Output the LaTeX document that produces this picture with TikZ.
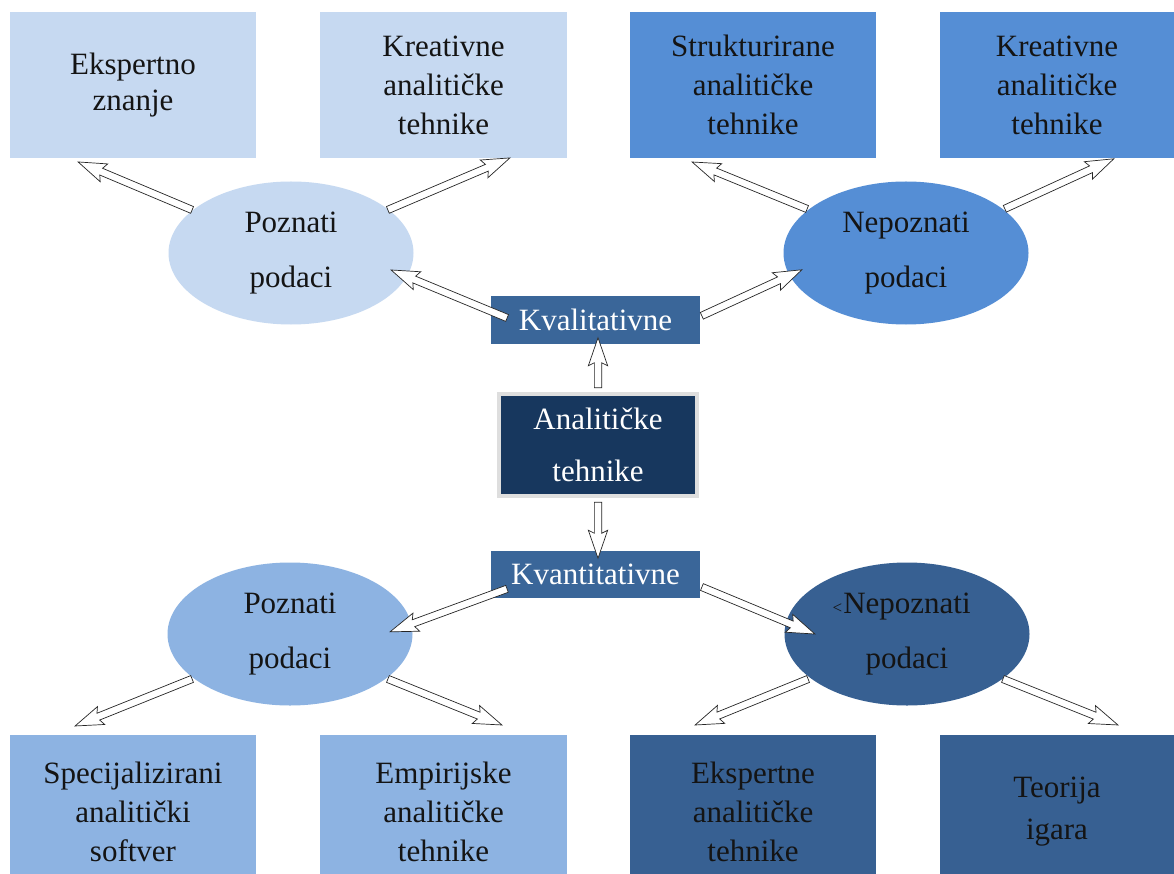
\documentclass[tikz,border=0pt]{standalone}
\usepackage{fontspec}
\setmainfont{Liberation Serif}
\usetikzlibrary{shapes.geometric,shapes.arrows,calc}

\definecolor{paleblue}{HTML}{C6D9F1}
\definecolor{midblue}{HTML}{558ED5}
\definecolor{softblue}{HTML}{8DB3E2}
\definecolor{deepblue}{HTML}{376092}
\definecolor{tagblue}{HTML}{3A6699}
\definecolor{navy}{HTML}{17375E}
\definecolor{ink}{HTML}{141414}

\tikzset{
  box/.style={rectangle, inner sep=0pt, outer sep=0pt, align=center, text=ink,
    font=\fontsize{31}{39}\selectfont},
  oval/.style={ellipse, inner sep=0pt, outer sep=0pt, align=center, text=ink,
    font=\fontsize{31}{55}\selectfont, minimum width=245pt, minimum height=143pt},
  tag/.style={rectangle, fill=tagblue, text=white, inner sep=0pt, outer sep=0pt,
    font=\fontsize{31}{39}\selectfont, minimum width=209pt, minimum height=47pt},
  hollow/.style={single arrow, draw=black!85, fill=white, line width=0.7pt,
    inner sep=3.3pt, outer sep=0pt, single arrow head extend=6pt,
    single arrow tip angle=38, single arrow head indent=3pt},
}

% hollow block arrow from coordinate #1 to coordinate #2
\newcommand\blockarrow[2]{%
  \path let \p1=($(#2)-(#1)$), \n1={atan2(\y1,\x1)}, \n2={veclen(\x1,\y1)} in
    node[hollow, minimum height=\n2, rotate=\n1] at ($(#1)!0.5!(#2)$) {};}

\begin{document}
\begin{tikzpicture}[x=1pt, y=-1pt]
\useasboundingbox[fill=white] (0,0) rectangle (1174,874);

% outer boxes, top row
\node[box, fill=paleblue, minimum width=246pt, minimum height=146pt,
  font=\fontsize{31}{36}\selectfont] (ekz) at (133,85) {Ekspertno\\znanje};
\node[box, fill=paleblue, minimum width=247pt, minimum height=146pt] (kat1) at (443.5,85) {Kreativne\\analitičke\\tehnike};
\node[box, fill=midblue, minimum width=246pt, minimum height=146pt] (sat) at (753,85) {Strukturirane\\analitičke\\tehnike};
\node[box, fill=midblue, minimum width=234pt, minimum height=146pt] (kat2) at (1057,85) {Kreativne\\analitičke\\tehnike};

% outer boxes, bottom row
\node[box, fill=softblue, minimum width=246pt, minimum height=153pt] (sas) at (133,811.5) {Specijalizirani\\analitički\\softver};
\node[box, fill=softblue, minimum width=247pt, minimum height=153pt] (eat) at (443.5,811.5) {Empirijske\\analitičke\\tehnike};
\node[box, fill=deepblue, minimum width=246pt, minimum height=153pt] (exat) at (753,811.5) {Ekspertne\\analitičke\\tehnike};
\node[box, fill=deepblue, minimum width=234pt, minimum height=153pt,
  font=\fontsize{31}{42}\selectfont] (ti) at (1057,811.5) {Teorija\\igara};

% data ellipses
\node[oval, fill=paleblue] (pzt) at (291,253) {Poznati\\podaci};
\node[oval, fill=midblue] (npt) at (906,253) {Nepoznati\\podaci};
\node[oval, fill=softblue] (pzb) at (290,634) {Poznati\\podaci};
\node[oval, fill=deepblue] (npb) at (907,634) {\llap{\fontsize{17}{17}\selectfont<\kern1pt}Nepoznati\\podaci};

% centre
\node[tag] (kval) at (595.5,320) {Kvalitativne};
\node[tag] (kvant) at (595.5,574) {Kvantitativne};
\node[rectangle, fill=navy, draw=black!13, line width=4pt, inner sep=0pt,
  minimum width=198pt, minimum height=102pt, align=center, text=white,
  font=\fontsize{31}{52}\selectfont] (at) at (598,445) {Analitičke\\tehnike};

% arrow ends
\coordinate (aU0) at (598,393);  \coordinate (aU1) at (598,343);
\coordinate (aD0) at (598,497);  \coordinate (aD1) at (598,553);
\coordinate (q10) at (512,320);  \coordinate (q11) at (396,272);
\coordinate (q20) at (697,318);  \coordinate (q21) at (797,272);
\coordinate (t10) at (197,212);  \coordinate (t11) at (83,164);
\coordinate (t20) at (383,212);  \coordinate (t21) at (505,160);
\coordinate (t30) at (812,211);  \coordinate (t31) at (697,164);
\coordinate (t40) at (1000,211); \coordinate (t41) at (1109,161);
\coordinate (n10) at (512,587);  \coordinate (n11) at (395,630);
\coordinate (n20) at (697,585);  \coordinate (n21) at (810,632);
\coordinate (b10) at (197,677);  \coordinate (b11) at (80,724);
\coordinate (b20) at (383,677);  \coordinate (b21) at (497,723);
\coordinate (b30) at (813,677);  \coordinate (b31) at (700,723);
\coordinate (b40) at (998,677);  \coordinate (b41) at (1113,723);

% connectors
\blockarrow{aU0}{aU1}
\blockarrow{aD0}{aD1}
\blockarrow{q10}{q11}
\blockarrow{q20}{q21}
\blockarrow{t10}{t11}
\blockarrow{t20}{t21}
\blockarrow{t30}{t31}
\blockarrow{t40}{t41}
\blockarrow{n10}{n11}
\blockarrow{n20}{n21}
\blockarrow{b10}{b11}
\blockarrow{b20}{b21}
\blockarrow{b30}{b31}
\blockarrow{b40}{b41}
\end{tikzpicture}
\end{document}
